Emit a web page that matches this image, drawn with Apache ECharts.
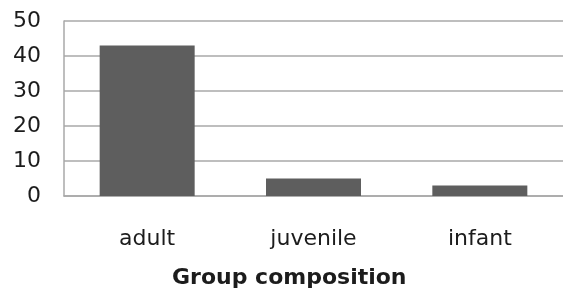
<!DOCTYPE html>
<html>
<head>
<meta charset="utf-8">
<script src="https://cdn.jsdelivr.net/npm/echarts@6/dist/echarts.min.js"></script>
<style>
  html, body { margin: 0; padding: 0; background: #fff; }
  #chart { width: 563px; height: 300px; }
</style>
</head>
<body>
<div id="chart"></div>
<script>
const categories = ['adult', 'juvenile', 'infant'];
const counts = [43, 5, 3];
const yTicks = { min: 0, max: 50, interval: 10 };

const chart = echarts.init(document.getElementById('chart'));
const gridColor = '#a8a8a8';
const textColor = '#1c1c1c';

chart.setOption({
  animation: false,
  title: {
    text: 'Group composition',
    left: 167,
    top: 262,
    textStyle: {
      fontFamily: 'DejaVu Sans',
      fontWeight: 'bold',
      fontSize: 22,
      color: textColor
    }
  },
  grid: {
    left: 64,
    right: -4,
    top: 21,
    bottom: 104
  },
  xAxis: {
    type: 'category',
    data: categories,
    axisTick: { show: false },
    axisLine: { lineStyle: { color: gridColor, width: 1.5 } },
    axisLabel: {
      color: textColor,
      fontFamily: 'DejaVu Sans',
      fontSize: 22,
      margin: 32
    }
  },
  yAxis: {
    type: 'value',
    min: yTicks.min,
    max: yTicks.max,
    interval: yTicks.interval,
    axisLine: { show: true, lineStyle: { color: gridColor, width: 1.5 } },
    axisTick: { show: false },
    axisLabel: {
      color: textColor,
      fontFamily: 'DejaVu Sans',
      fontSize: 22,
      margin: 23
    },
    splitLine: { lineStyle: { color: gridColor, width: 1.5 } }
  },
  series: [
    {
      type: 'bar',
      data: counts,
      barWidth: 95,
      itemStyle: { color: '#5e5e5e' }
    }
  ]
});
</script>
</body>
</html>
